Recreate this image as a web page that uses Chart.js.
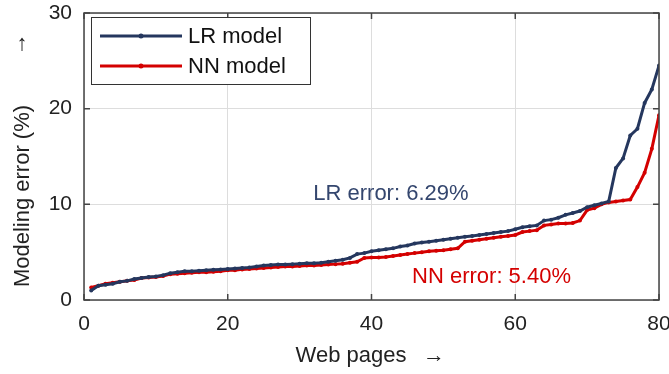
<!DOCTYPE html>
<html>
<head>
<meta charset="utf-8">
<script src="https://cdn.jsdelivr.net/npm/chart.js@4"></script>
<style>
  html, body { margin: 0; padding: 0; background: #fff; }
  #wrap { width: 669px; height: 374px; }
</style>
</head>
<body>
<div id="wrap"><canvas id="grafico" width="669" height="374"></canvas></div>
<script>
// dados
const webPages = Array.from({length: 80}, (_, i) => i + 1);
const lrError = [
  1.0, 1.5, 1.6, 1.7, 1.9, 2.0, 2.2, 2.3, 2.4, 2.45,
  2.6, 2.8, 2.9, 3.0, 3.0, 3.05, 3.1, 3.15, 3.2, 3.25,
  3.3, 3.35, 3.4, 3.5, 3.6, 3.65, 3.7, 3.7, 3.75, 3.8,
  3.85, 3.85, 3.9, 4.0, 4.1, 4.2, 4.4, 4.8, 4.9, 5.1,
  5.2, 5.3, 5.4, 5.6, 5.7, 5.9, 6.0, 6.1, 6.2, 6.3,
  6.4, 6.5, 6.6, 6.7, 6.8, 6.9, 7.0, 7.1, 7.2, 7.4,
  7.6, 7.7, 7.8, 8.3, 8.4, 8.6, 8.9, 9.1, 9.3, 9.7,
  9.9, 10.1, 10.3, 13.8, 14.8, 17.2, 17.9, 20.6, 22.0, 24.5
];
const nnError = [
  1.3, 1.5, 1.7, 1.8, 1.9, 2.0, 2.1, 2.3, 2.35, 2.4,
  2.5, 2.7, 2.75, 2.8, 2.85, 2.9, 2.9, 2.95, 3.0, 3.1,
  3.1, 3.2, 3.25, 3.3, 3.35, 3.4, 3.45, 3.5, 3.5, 3.55,
  3.6, 3.6, 3.65, 3.7, 3.75, 3.8, 3.9, 4.0, 4.4, 4.45,
  4.45, 4.5, 4.6, 4.7, 4.8, 4.9, 5.0, 5.1, 5.15, 5.2,
  5.3, 5.4, 6.1, 6.2, 6.3, 6.4, 6.5, 6.6, 6.7, 6.8,
  7.1, 7.2, 7.3, 7.8, 7.9, 8.0, 8.0, 8.05, 8.3, 9.4,
  9.6, 10.0, 10.2, 10.3, 10.4, 10.5, 11.8, 13.3, 15.8, 19.3
];
const seriesNames = ['LR model', 'NN model'];
const seriesColors = ['#25375e', '#d40000'];
const xTicks = [0, 20, 40, 60, 80];
const yTicks = [0, 10, 20, 30];
const notes = [
  {text: 'LR error: 6.29%', x: 42.7, y: 11.1, color: '#34466e'},
  {text: 'NN error: 5.40%', x: 56.7, y: 2.4, color: '#d40000'}
];

const FONT = '"Liberation Sans", Arial, sans-serif';

// moldura, marcas internas, titulos e legenda
const extras = {
  id: 'extras',
  afterDatasetsDraw(chart) {
    const {ctx, chartArea: a, scales: {x, y}} = chart;
    ctx.save();
    ctx.strokeStyle = '#444';
    ctx.lineWidth = 1.5;
    ctx.strokeRect(a.left, a.top, a.right - a.left, a.bottom - a.top);
    ctx.beginPath();
    xTicks.forEach(v => {
      const px = x.getPixelForValue(v);
      ctx.moveTo(px, a.bottom); ctx.lineTo(px, a.bottom - 6);
      ctx.moveTo(px, a.top); ctx.lineTo(px, a.top + 6);
    });
    yTicks.forEach(v => {
      const py = y.getPixelForValue(v);
      ctx.moveTo(a.left, py); ctx.lineTo(a.left + 6, py);
      ctx.moveTo(a.right, py); ctx.lineTo(a.right - 6, py);
    });
    ctx.stroke();

    // anotacoes
    ctx.font = '22px ' + FONT;
    ctx.textAlign = 'center';
    ctx.textBaseline = 'middle';
    notes.forEach(n => {
      ctx.fillStyle = n.color;
      ctx.fillText(n.text, x.getPixelForValue(n.x), y.getPixelForValue(n.y));
    });

    // titulos dos eixos
    ctx.fillStyle = '#222';
    ctx.fillText('Web pages', 351, 356);
    ctx.fillText('\u2192', 434, 356);
    ctx.fillText('\u2191', 22, 44);
    ctx.translate(23, 196);
    ctx.rotate(-Math.PI / 2);
    ctx.fillText('Modeling error (%)', 0, 0);
    ctx.restore();

    // legenda
    ctx.save();
    ctx.fillStyle = '#fff';
    ctx.fillRect(91, 18, 220, 67);
    ctx.strokeStyle = '#333';
    ctx.lineWidth = 1;
    ctx.strokeRect(91.5, 17.5, 219, 67);
    ctx.font = '22px ' + FONT;
    ctx.textAlign = 'left';
    ctx.textBaseline = 'middle';
    seriesNames.forEach((name, i) => {
      const ly = 36 + i * 30;
      ctx.strokeStyle = seriesColors[i];
      ctx.lineWidth = 3;
      ctx.beginPath();
      ctx.moveTo(100, ly); ctx.lineTo(182, ly);
      ctx.stroke();
      ctx.fillStyle = seriesColors[i];
      ctx.beginPath();
      ctx.arc(141, ly, 2.5, 0, Math.PI * 2);
      ctx.fill();
      ctx.fillStyle = '#111';
      ctx.fillText(name, 188, ly + 1);
    });
    ctx.restore();
  }
};

const ctx1 = document.getElementById('grafico').getContext('2d');
new Chart(ctx1, {
  type: 'line',
  data: {
    labels: webPages,
    datasets: [lrError, nnError].map((serie, i) => ({
      label: seriesNames[i],
      data: serie.map((v, k) => ({x: webPages[k], y: v})),
      borderColor: seriesColors[i],
      backgroundColor: seriesColors[i],
      borderWidth: 3,
      pointRadius: 2,
      pointBorderWidth: 0,
      tension: 0
    }))
  },
  options: {
    responsive: false,
    animation: false,
    layout: {padding: {left: 0, right: 10, top: 13, bottom: 0}},
    plugins: {legend: {display: false}, tooltip: {enabled: false}},
    scales: {
      x: {
        type: 'linear',
        min: 0, max: 80,
        afterBuildTicks: s => { s.ticks = xTicks.map(v => ({value: v})); },
        afterFit: s => { s.height = 74; s.paddingLeft = 0; s.paddingRight = 0; },
        grid: {color: '#dddddd', lineWidth: 1, drawTicks: false},
        border: {display: false},
        ticks: {padding: 12, color: '#222', font: {family: FONT, size: 21}}
      },
      y: {
        min: 0, max: 30,
        afterBuildTicks: s => { s.ticks = yTicks.map(v => ({value: v})); },
        afterFit: s => { s.width = 84; s.paddingTop = 0; s.paddingBottom = 0; },
        grid: {color: '#dddddd', lineWidth: 1, drawTicks: false},
        border: {display: false},
        ticks: {padding: 12, color: '#222', font: {family: FONT, size: 21}}
      }
    }
  },
  plugins: [extras]
});
</script>
</body>
</html>
